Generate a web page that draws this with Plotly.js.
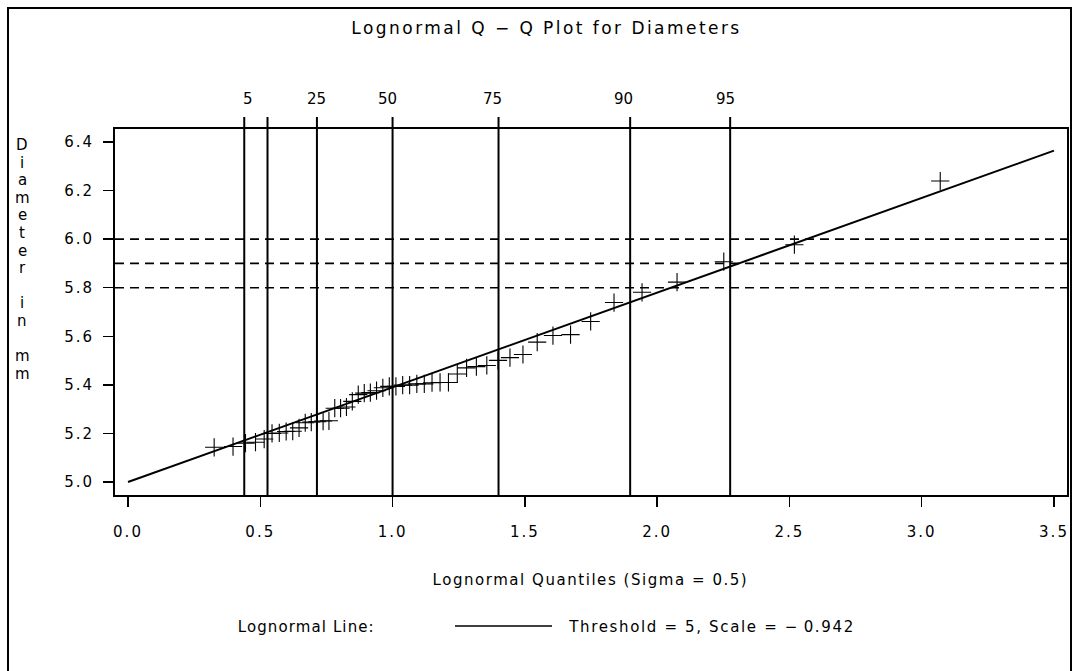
<!DOCTYPE html>
<html>
<head>
<meta charset="utf-8">
<script src="https://cdn.plot.ly/plotly-3.0.1.min.js"></script>
<style>
html,body{margin:0;padding:0;background:#fff;}
#chart{width:1074px;height:671px;}
#chart .xtick text, #chart .ytick text{letter-spacing:2px;}
</style>
</head>
<body>
<div id="chart"></div>
<script>
// ---- data ----
var diameters = [5.143, 5.146, 5.160, 5.164, 5.177, 5.200, 5.202, 5.208, 5.209, 5.223,
  5.244, 5.247, 5.248, 5.251, 5.252, 5.304, 5.304, 5.309, 5.332, 5.360,
  5.366, 5.368, 5.376, 5.388, 5.394, 5.394, 5.399, 5.399, 5.404, 5.404,
  5.409, 5.410, 5.410, 5.445, 5.470, 5.475, 5.480, 5.501, 5.512, 5.525,
  5.576, 5.603, 5.607, 5.661, 5.739, 5.781, 5.823, 5.907, 5.977, 6.239];
var lognormalQuantiles = [0.3257, 0.3970, 0.4441, 0.4819, 0.5147, 0.5444, 0.5718, 0.5978, 0.6226, 0.6465,
  0.6699, 0.6927, 0.7151, 0.7374, 0.7595, 0.7815, 0.8035, 0.8256, 0.8478, 0.8703,
  0.8930, 0.9160, 0.9394, 0.9632, 0.9876, 1.0126, 1.0382, 1.0645, 1.0917, 1.1199,
  1.1491, 1.1795, 1.2112, 1.2446, 1.2797, 1.3167, 1.3562, 1.3984, 1.4437, 1.4928,
  1.5467, 1.6062, 1.6727, 1.7487, 1.8370, 1.9429, 2.0752, 2.2519, 2.5187, 3.0700];
var percentileLabels = ['5', '', '25', '50', '75', '90', '95'];
var percentileX = [0.4394, 0.5273, 0.7141, 1.0000, 1.4005, 1.8980, 2.2760];
var refLevels = [5.8, 5.9, 6.0];
var xTickVals = [0, 0.5, 1.0, 1.5, 2.0, 2.5, 3.0, 3.5];
var xTickText = ['0.0', '0.5', '1.0', '1.5', '2.0', '2.5', '3.0', '3.5'];
var yTickVals = [5.0, 5.2, 5.4, 5.6, 5.8, 6.0, 6.2, 6.4];
var yTickText = ['5.0', '5.2', '5.4', '5.6', '5.8', '6.0', '6.2', '6.4'];
var threshold = 5;
var scaleParam = -0.942;
var lineX = [0, 3.5];
var yTitleLetters = 'Diameter in mm'.split('');

// ---- layout helpers (pixel -> paper) ----
var W = 1074, H = 671, ML = 115, MR = 7, MT = 129, MB = 176;
var PW = W - ML - MR, PH = H - MT - MB;
function px(xp) { return (xp - ML) / PW; }
function py(yp) { return (H - MB - yp) / PH; }

var FONT = 'DejaVu Sans, Verdana, sans-serif';

var fitY = lineX.map(function (x) { return threshold + Math.exp(scaleParam) * x; });

var traces = [
  {
    x: lineX, y: fitY, mode: 'lines', type: 'scatter',
    line: {color: '#000', width: 2}, hoverinfo: 'skip', showlegend: false
  },
  {
    x: lognormalQuantiles, y: diameters, mode: 'markers', type: 'scatter',
    marker: {symbol: 'cross-thin', size: 13, color: '#000', line: {color: '#000', width: 1.1}},
    showlegend: false
  }
];

var shapes = [];
// outer frame
shapes.push({type: 'rect', xref: 'paper', yref: 'paper', x0: px(8), x1: px(1071), y0: py(700), y1: py(8),
  line: {color: '#000', width: 2}});
// percentile reference lines
percentileX.forEach(function (v) {
  shapes.push({type: 'line', xref: 'x', yref: 'paper', x0: v, x1: v, y0: 0, y1: py(117),
    line: {color: '#000', width: 2}});
});
// horizontal dashed reference lines
refLevels.forEach(function (v) {
  shapes.push({type: 'line', xref: 'paper', yref: 'y', x0: 0, x1: 1, y0: v, y1: v,
    line: {color: '#000', width: 1.6, dash: '9px,6px'}});
});
// legend line sample
shapes.push({type: 'line', xref: 'paper', yref: 'paper', x0: px(455), x1: px(552), y0: py(626), y1: py(626),
  line: {color: '#000', width: 1.5}});

function ann(o) {
  o.xref = o.xref || 'paper'; o.yref = o.yref || 'paper';
  o.showarrow = false;
  o.xanchor = 'center'; o.yanchor = 'middle';
  o.font = {family: FONT, size: o.size || 15, color: '#000'};
  delete o.size;
  return o;
}

// texts whose overall width is matched to the reference after drawing
var TITLE = 'Lognormal Q \u2212 Q Plot for Diameters';
var XTITLE = 'Lognormal Quantiles (Sigma = 0.5)';
var LEGLABEL = 'Lognormal Line:';
var LEGTEXT = 'Threshold = 5, Scale = \u2212\u20090.942';
var targetWidth = {};
targetWidth[TITLE] = 388;
targetWidth[XTITLE] = 314;
targetWidth[LEGLABEL] = 136;
targetWidth[LEGTEXT] = 284;

var annotations = [];
annotations.push(ann({text: TITLE, x: px(546), y: py(28), size: 17}));
var labelShift = [4, 0, 0, -5, -6, -7, -5];
percentileLabels.forEach(function (t, i) {
  if (!t) return;
  annotations.push(ann({text: t, xref: 'x', x: percentileX[i], y: py(99), xshift: labelShift[i]}));
});
yTitleLetters.forEach(function (c, i) {
  if (c === ' ') return;
  annotations.push(ann({text: c, x: px(22), y: py(145 + i * 17.6)}));
});
annotations.push(ann({text: XTITLE, x: px(590), y: py(580)}));
annotations.push(ann({text: LEGLABEL, x: px(306), y: py(627)}));
annotations.push(ann({text: LEGTEXT, x: px(711), y: py(627)}));

var layout = {
  width: W, height: H,
  margin: {l: ML, r: MR, t: MT, b: MB, pad: 0},
  paper_bgcolor: '#fff', plot_bgcolor: '#fff',
  showlegend: false,
  font: {family: FONT, size: 15, color: '#000'},
  xaxis: {
    range: [-13 / 264.57, 3.5 + 13 / 264.57],
    tickvals: xTickVals, ticktext: xTickText,
    ticks: 'outside', ticklen: 10, tickwidth: 1.5, tickcolor: '#000',
    showline: true, linecolor: '#000', linewidth: 2, mirror: true,
    showgrid: false, zeroline: false, ticklabelstandoff: 12,
    tickfont: {family: FONT, size: 15, color: '#000'}
  },
  yaxis: {
    range: [5.0 - 13 / 243.57, 6.4 + 13 / 243.57],
    tickvals: yTickVals, ticktext: yTickText,
    ticks: 'outside', ticklen: 10, tickwidth: 1.5, tickcolor: '#000',
    showline: true, linecolor: '#000', linewidth: 2, mirror: true,
    showgrid: false, zeroline: false, ticklabelstandoff: 6,
    tickfont: {family: FONT, size: 15, color: '#000'}
  },
  shapes: shapes,
  annotations: annotations
};

Plotly.newPlot('chart', traces, layout, {staticPlot: true, displayModeBar: false}).then(function () {
  document.querySelectorAll('#chart .annotation-text').forEach(function (el) {
    var t = el.textContent;
    if (targetWidth[t]) {
      var natural = el.getComputedTextLength();
      var n = t.length;
      var s = (targetWidth[t] - natural) / (n - 1);
      el.style.letterSpacing = s.toFixed(2) + 'px';
    }
  });
});
</script>
</body>
</html>
